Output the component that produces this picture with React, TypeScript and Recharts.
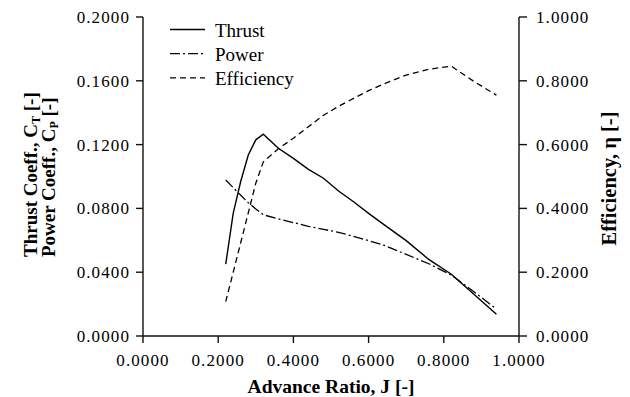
import React from 'react';
import { LineChart, Line, XAxis, YAxis, Legend, Label } from 'recharts';

// values
const advanceRatio = [0.22, 0.24, 0.26, 0.28, 0.30, 0.32, 0.36, 0.40, 0.44, 0.48, 0.52, 0.56, 0.60, 0.64, 0.70, 0.76, 0.82, 0.88, 0.94];
const thrustCoeff = [0.045, 0.077, 0.097, 0.1135, 0.123, 0.1265, 0.1177, 0.1114, 0.1045, 0.0989, 0.0909, 0.0842, 0.0769, 0.0700, 0.0598, 0.0480, 0.0387, 0.0262, 0.0136];
const powerCoeff = [0.0978, 0.0930, 0.0882, 0.0836, 0.0796, 0.0760, 0.0734, 0.0711, 0.0688, 0.0669, 0.0650, 0.0625, 0.0598, 0.0570, 0.0512, 0.0453, 0.0382, 0.0278, 0.0169];
const efficiency = [0.1075, 0.200, 0.293, 0.386, 0.479, 0.546, 0.587, 0.620, 0.656, 0.692, 0.720, 0.745, 0.769, 0.790, 0.818, 0.836, 0.846, 0.798, 0.755];

const xTicks = [0, 0.2, 0.4, 0.6, 0.8, 1.0];
const leftTicks = [0, 0.04, 0.08, 0.12, 0.16, 0.2];
const rightTicks = [0, 0.2, 0.4, 0.6, 0.8, 1.0];

const series = [
  { key: 'thrust', name: 'Thrust', dash: undefined as string | undefined, width: 1.4 },
  { key: 'power', name: 'Power', dash: '10 3 2 3', width: 1.3 },
  { key: 'efficiency', name: 'Efficiency', dash: '6 4', width: 1.3 },
];

const data = advanceRatio.map((j, i) => ({
  j,
  thrust: thrustCoeff[i],
  power: powerCoeff[i],
  efficiency: efficiency[i],
}));

const FONT = '"Liberation Serif", "Times New Roman", serif';
const tickStyle = { fill: '#000', fontSize: 17, fontFamily: FONT, letterSpacing: 1.1 };
const fmt = (v: number) => v.toFixed(4);

const renderLegend = () => (
  <svg width={160} height={80} style={{ display: 'block' }}>
    {series.map((s, i) => {
      const y = 14.5 + i * 24.2;
      return (
        <g key={s.key}>
          <line x1={5} x2={40} y1={y} y2={y} stroke="#000" strokeWidth={1.3} strokeDasharray={s.dash} />
          <text x={50} y={y + 7} fontFamily={FONT} fontSize={19} fill="#000">{s.name}</text>
        </g>
      );
    })}
  </svg>
);

const XTitle = (props: any) => {
  const { x, y, width } = props.viewBox;
  return (
    <text x={x + width / 2} y={y + 57} textAnchor="middle" fontFamily={FONT} fontSize={19.5} fontWeight="bold" fill="#000">
      Advance Ratio, J [-]
    </text>
  );
};

const LeftTitle = (props: any) => {
  const { x, y, height } = props.viewBox;
  const by = y + height - 79;
  const x1 = x + 37;
  const x2 = x + 55;
  return (
    <g fontFamily={FONT} fontSize={19} fontWeight="bold" fill="#000">
      <text x={x1} y={by} transform={`rotate(-90, ${x1}, ${by})`}>
        Thrust Coeff., C<tspan fontSize={12} dy={3}>T</tspan><tspan dy={-3}> [-]</tspan>
      </text>
      <text x={x2} y={by} transform={`rotate(-90, ${x2}, ${by})`}>
        Power Coeff., C<tspan fontSize={12} dy={3}>P</tspan><tspan dy={-3}> [-]</tspan>
      </text>
    </g>
  );
};

const RightTitle = (props: any) => {
  const { x, y, height } = props.viewBox;
  const cx = x + 97;
  const cy = y + height / 2 + 2;
  return (
    <text x={cx} y={cy} textAnchor="middle" transform={`rotate(-90, ${cx}, ${cy})`} fontFamily={FONT} fontSize={20.5} fontWeight="bold" fill="#000">
      Efficiency, η [-]
    </text>
  );
};

export default function App() {
  return (
    <div style={{ position: 'absolute', left: 0, top: 0, width: 630, height: 397, background: '#fff' }}>
      <LineChart width={630} height={397} data={data} margin={{ top: 17, right: 0, bottom: 0, left: 0 }}>
        <XAxis
          type="number"
          dataKey="j"
          domain={[0, 1]}
          ticks={xTicks}
          interval={0}
          tickFormatter={fmt}
          height={61}
          tickSize={7}
          tickMargin={11}
          tick={tickStyle}
          axisLine={{ stroke: '#111', strokeWidth: 1.4 }}
          tickLine={{ stroke: '#111', strokeWidth: 1.4 }}
        >
          <Label content={XTitle} />
        </XAxis>
        <YAxis
          yAxisId="left"
          orientation="left"
          width={143}
          domain={[0, 0.2]}
          ticks={leftTicks}
          interval={0}
          tickFormatter={fmt}
          tickSize={7}
          tickMargin={6}
          tick={tickStyle}
          axisLine={{ stroke: '#111', strokeWidth: 1.4 }}
          tickLine={{ stroke: '#111', strokeWidth: 1.4 }}
        >
          <Label content={LeftTitle} />
        </YAxis>
        <YAxis
          yAxisId="right"
          orientation="right"
          width={111}
          domain={[0, 1]}
          ticks={rightTicks}
          interval={0}
          tickFormatter={fmt}
          tickSize={8}
          tickMargin={9}
          tick={tickStyle}
          axisLine={{ stroke: '#111', strokeWidth: 1.4 }}
          tickLine={{ stroke: '#111', strokeWidth: 1.4 }}
        >
          <Label content={RightTitle} />
        </YAxis>
        <Legend
          layout="horizontal"
          verticalAlign="middle"
          align="center"
          content={renderLegend}
          wrapperStyle={{ position: 'absolute', left: 165, top: 15, width: 160, height: 80 }}
        />
        {series.map((s) => (
          <Line
            key={s.key}
            yAxisId={s.key === 'efficiency' ? 'right' : 'left'}
            type="linear"
            dataKey={s.key}
            name={s.name}
            stroke="#000"
            strokeWidth={s.width}
            strokeDasharray={s.dash}
            dot={false}
            activeDot={false}
            isAnimationActive={false}
          />
        ))}
      </LineChart>
    </div>
  );
}
